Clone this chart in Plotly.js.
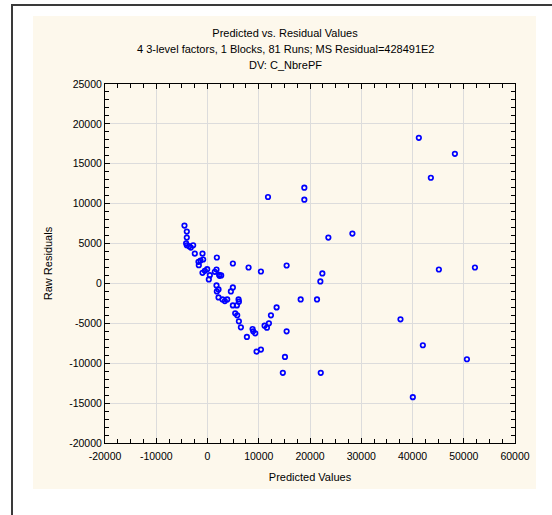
<!DOCTYPE html>
<html>
<head>
<meta charset="utf-8">
<script src="https://cdn.plot.ly/plotly-3.0.1.min.js"></script>
<style>html,body{margin:0;padding:0;background:#fff;}#chart{width:552px;height:515px;}</style>
</head>
<body>
<div id="chart"></div>
<script>
// Predicted values (x) and raw residuals (y)
const predicted = [
  -4495, -4040, -4040, -4170, -4040, -3583, -3257, -2800, -2476, -977,
  -1759, -1368, -847, -1694, -977, -521, -65, 456, 260, 1824,
  1759, 1433, 2280, 2671, 2345, 4951, 8013, 10423, 15440, 1759,
  2150, 1824, 4951, 4560, 2150, 2932, 3388, 3844, 6059, 6124,
  4951, 5733, 5407, 5798, 6124, 6515, 7687, 8795, 8925, 9316,
  9577, 10423, 11140, 11596, 11987, 12378, 13485, 15440, 15114, 18180,
  21368, 11805, 18893, 18893, 41238, 48274, 43583, 23583, 28274, 22410,
  22020, 45147, 52182, 14700, 22100, 37655, 42020, 50619, 40065
];
const residuals = [
  7250, 6500, 5750, 5040, 4790, 4667, 4500, 4790, 3750, 3750,
  2708, 2875, 3000, 2290, 1333, 1583, 1790, 1042, 500, 3250,
  1750, 1458, 1083, 1000, 958, 2500, 2000, 1500, 2250, -250,
  -750, -1000, -500, -1000, -1750, -2000, -2208, -2000, -2000, -2290,
  -2750, -2750, -3750, -4000, -4750, -5500, -6708, -5708, -6000, -6250,
  -8540, -8290, -5290, -5540, -5000, -4000, -3000, -6000, -9208, -2000,
  -2000, 10836, 12000, 10500, 18250, 16250, 13250, 5750, 6250, 1250,
  250, 1750, 2000, -11200, -11200, -4500, -7750, -9500, -14250
];
const xTickVals = [-20000, -10000, 0, 10000, 20000, 30000, 40000, 50000, 60000];
const xTickText = ["-20000", "-10000", "0", "10000", "20000", "30000", "40000", "50000", "60000"];
const yTickVals = [-20000, -15000, -10000, -5000, 0, 5000, 10000, 15000, 20000, 25000];
const yTickText = ["-20000", "-15000", "-10000", "-5000", "0", "5000", "10000", "15000", "20000", "25000"];
const titleLines = [
  "Predicted vs. Residual Values",
  "4 3-level factors, 1 Blocks, 81 Runs; MS Residual=428491E2",
  "DV: C_NbrePF"
];

const FONT = "Liberation Sans, Arial, sans-serif";
const W = 552, H = 515;

const trace = {
  type: "scatter",
  mode: "markers",
  x: predicted,
  y: residuals,
  marker: {symbol: "circle-open", size: 4.5, color: "#0000ff", line: {width: 1.7, color: "#0000ff"}},
  hoverinfo: "x+y"
};

const axisCommon = {
  showline: true, linecolor: "#000", linewidth: 1, mirror: "allticks",
  ticks: "inside", ticklen: 5, tickcolor: "#000", tickwidth: 1,
  showgrid: true, gridcolor: "#dcdcdc", gridwidth: 1, zeroline: false,
  tickmode: "array",
  tickfont: {family: FONT, size: 10.5, color: "#000"}
};

const layout = {
  width: W, height: H,
  paper_bgcolor: "#ffffff",
  plot_bgcolor: "#ffffff",
  margin: {l: 105, r: 37, t: 84, b: 72, pad: 0},
  showlegend: false,
  font: {family: FONT, color: "#000"},
  title: {
    text: titleLines[0],
    font: {family: FONT, size: 11, color: "#000"},
    xref: "container", yref: "container",
    x: 285 / W, xanchor: "center",
    y: 1 - 33 / H, yanchor: "middle"
  },
  annotations: [
    {text: titleLines[1], xref: "paper", yref: "paper", showarrow: false,
     x: (285 - 105) / 410, y: 1 + (84 - 49) / 359, xanchor: "center", yanchor: "middle",
     font: {family: FONT, size: 11, color: "#000"}},
    {text: titleLines[2], xref: "paper", yref: "paper", showarrow: false,
     x: (285 - 105) / 410, y: 1 + (84 - 65) / 359, xanchor: "center", yanchor: "middle",
     font: {family: FONT, size: 11, color: "#000"}}
  ],
  xaxis: Object.assign({}, axisCommon, {
    range: [-20000, 60000],
    tickvals: xTickVals, ticktext: xTickText,
    ticklabelstandoff: 3,
    minor: {ticks: "inside", ticklen: 4, tickcolor: "#000", dtick: 2500, tick0: 0, showgrid: false},
    title: {text: "Predicted Values", font: {family: FONT, size: 11, color: "#000"}, standoff: 12}
  }),
  yaxis: Object.assign({}, axisCommon, {
    range: [-20000, 25000],
    tickvals: yTickVals, ticktext: yTickText,
    minor: {ticks: "inside", ticklen: 4, tickcolor: "#000", dtick: 1000, tick0: 0, showgrid: false},
    title: {text: "Raw Residuals", font: {family: FONT, size: 11, color: "#000"}, standoff: 14}
  }),
  shapes: [
    {type: "rect", xref: "paper", yref: "paper", layer: "below",
     x0: (33 - 105) / 410, x1: (536 - 105) / 410,
     y0: -(489 - 443) / 359, y1: 1 + (84 - 16) / 359,
     fillcolor: "#fdf8ec", line: {width: 0}},
    {type: "line", xref: "paper", yref: "paper", layer: "above",
     x0: (12 - 105) / 410, x1: (12 - 105) / 410,
     y0: -(515 - 443) / 359, y1: 1 + (84 - 4.5) / 359,
     line: {color: "#3a3a3a", width: 2}},
    {type: "line", xref: "paper", yref: "paper", layer: "above",
     x0: (11 - 105) / 410, x1: (552 - 105) / 410,
     y0: 1 + (84 - 5) / 359, y1: 1 + (84 - 5) / 359,
     line: {color: "#3a3a3a", width: 2}}
  ]
};

Plotly.newPlot("chart", [trace], layout, {displayModeBar: false, staticPlot: true});
</script>
</body>
</html>
